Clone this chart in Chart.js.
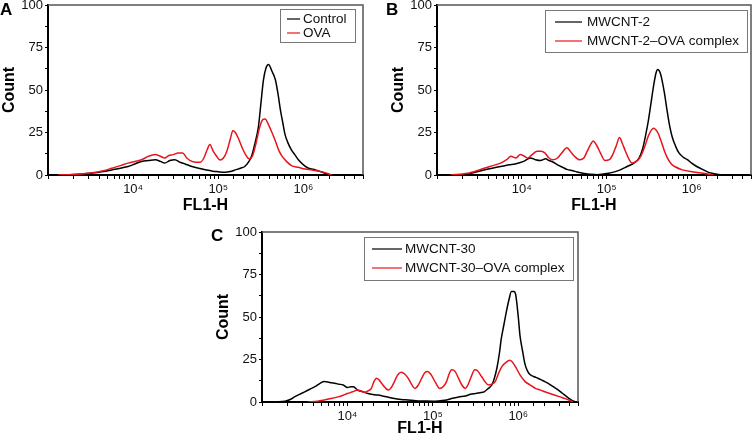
<!DOCTYPE html>
<html lang="en">
<head>
    <meta charset="UTF-8">
    <title>FL1-H histograms</title>
    <style>
        body {
            margin: 0;
            background-color: #fff;
            font-family: "Liberation Sans", Arial, sans-serif;
        }

        #wrap {
            position: relative;
            width: 753px;
            height: 441px;
            overflow: hidden;
        }

        canvas {
            position: absolute;
        }

        .letter {
            position: absolute;
            font-weight: bold;
            font-size: 17px;
            line-height: 17px;
            color: #000;
        }
    </style>
    <script src="https://cdn.jsdelivr.net/npm/chart.js"></script>
</head>
<body>
    <div id="wrap">
        <canvas id="panelA" width="370" height="216" style="left:0;top:0"></canvas>
        <canvas id="panelB" width="364" height="216" style="left:389px;top:0"></canvas>
        <canvas id="panelC" width="370" height="216" style="left:214px;top:227px"></canvas>
        <div class="letter" style="left:0;top:1px">A</div>
        <div class="letter" style="left:386px;top:1px">B</div>
        <div class="letter" style="left:211px;top:227px">C</div>
    </div>

    <script>
        // x axis range (FL1-H) and labelled ticks
        const fl1Min = 1000;
        const fl1Max = 5000000;
        const xTickExp = [4, 5, 6];
        const xTickText = ["10\u2074", "10\u2075", "10\u2076"];
        const yTickValues = [0, 25, 50, 75, 100];

        // Panel A: positions as log10(FL1-H), counts
        const aControlExp = [3.10, 3.30, 3.50, 3.65, 3.75, 3.85, 3.94, 4.02, 4.10, 4.18, 4.26, 4.32, 4.37, 4.43, 4.49, 4.55, 4.61, 4.69, 4.77, 4.86, 4.92, 4.98, 5.08, 5.14, 5.20, 5.26, 5.31, 5.36, 5.39, 5.43, 5.47, 5.50, 5.53, 5.56, 5.59, 5.63, 5.67, 5.70, 5.73, 5.76, 5.78, 5.82, 5.86, 5.90, 5.94, 6.00, 6.06, 6.14, 6.20, 6.25, 6.33];
        const aControlCount = [0, 0.3, 1, 2, 3, 4, 5, 6.5, 8, 8.5, 9, 8, 7, 8.5, 9, 7.5, 6.5, 5, 4, 2.9, 2.4, 2, 1.6, 2, 3, 4, 5, 8, 11, 18.6, 28, 42, 56, 63, 65, 61, 56, 48, 38, 30, 24.5, 18.6, 14.7, 11.8, 9, 6, 4, 3, 2, 1, 0];
        const aOvaExp = [3.12, 3.30, 3.50, 3.65, 3.75, 3.85, 3.94, 4.02, 4.10, 4.18, 4.26, 4.32, 4.37, 4.42, 4.47, 4.53, 4.58, 4.63, 4.69, 4.74, 4.79, 4.83, 4.87, 4.90, 4.94, 4.98, 5.02, 5.06, 5.10, 5.14, 5.17, 5.20, 5.24, 5.28, 5.32, 5.36, 5.40, 5.44, 5.48, 5.52, 5.55, 5.59, 5.63, 5.67, 5.71, 5.75, 5.80, 5.86, 5.94, 6.02, 6.10, 6.18, 6.25, 6.33];
        const aOvaCount = [0, 0.3, 1.2, 2.5, 4, 5.5, 7, 8, 9, 11, 12, 11, 10, 11.5, 12, 13, 13, 10, 8, 7.5, 7.5, 10, 15, 18, 14, 11, 8.8, 10, 14, 21, 26, 25, 21, 16, 12, 9.5, 11, 18, 27, 32.5, 33, 29.5, 25, 20, 14.5, 11, 8, 5.5, 4.5, 3.5, 3, 2.2, 1.4, 0];

        // Panel B
        const bCntExp = [3.20, 3.36, 3.55, 3.65, 3.75, 3.85, 3.92, 4.02, 4.10, 4.16, 4.22, 4.28, 4.32, 4.37, 4.42, 4.48, 4.53, 4.60, 4.65, 4.72, 4.80, 4.89, 4.96, 5.02, 5.10, 5.16, 5.24, 5.32, 5.38, 5.42, 5.46, 5.49, 5.52, 5.55, 5.58, 5.60, 5.63, 5.65, 5.68, 5.71, 5.74, 5.77, 5.81, 5.85, 5.90, 5.95, 6.00, 6.06, 6.12, 6.18, 6.24, 6.30, 6.36];
        const bCntCount = [0, 0.5, 3, 4, 5, 6, 6.5, 8, 10, 9, 8.5, 9.5, 8.5, 7.5, 6, 4.5, 3.3, 2.5, 1.8, 1, 0.5, 0.2, 0.6, 1, 2, 3, 5, 7, 10, 15, 24, 32, 42, 52, 60, 62, 60, 56, 48, 38, 29, 22.5, 17, 13, 10.5, 9, 7, 5, 3.5, 2, 1, 0.4, 0];
        const bOvaExp = [3.16, 3.36, 3.50, 3.62, 3.75, 3.82, 3.87, 3.93, 3.98, 4.03, 4.07, 4.12, 4.18, 4.23, 4.27, 4.32, 4.36, 4.42, 4.47, 4.53, 4.57, 4.62, 4.68, 4.73, 4.77, 4.81, 4.84, 4.88, 4.92, 4.98, 5.03, 5.07, 5.11, 5.15, 5.18, 5.22, 5.26, 5.30, 5.35, 5.40, 5.45, 5.49, 5.55, 5.60, 5.64, 5.68, 5.72, 5.76, 5.80, 5.89, 6.02, 6.14, 6.26];
        const bOvaCount = [0, 1, 3, 5, 7, 9, 11, 10, 12, 11, 10, 12, 14, 14, 13, 10, 9, 10, 13, 16, 14, 11, 9, 10, 14, 18, 20, 17.5, 13.5, 8.5, 9, 12, 17, 22, 19, 14, 9.5, 7, 8, 11, 17, 23, 27.5, 25, 20, 14, 9.5, 6.5, 5, 3, 1.8, 1, 0];

        // Panel C
        const cCntExp = [3.03, 3.27, 3.33, 3.38, 3.44, 3.50, 3.56, 3.62, 3.68, 3.73, 3.79, 3.85, 3.90, 3.95, 4.00, 4.04, 4.07, 4.12, 4.18, 4.24, 4.32, 4.40, 4.48, 4.55, 4.63, 4.71, 4.80, 4.91, 5.00, 5.06, 5.14, 5.22, 5.30, 5.38, 5.44, 5.50, 5.55, 5.60, 5.65, 5.69, 5.72, 5.75, 5.78, 5.80, 5.83, 5.86, 5.89, 5.92, 5.95, 5.97, 6.00, 6.02, 6.05, 6.08, 6.11, 6.14, 6.18, 6.23, 6.29, 6.35, 6.41, 6.47, 6.52, 6.57, 6.61, 6.64, 6.68];
        const cCntCount = [0, 0.5, 1.5, 3, 4.5, 6, 7.5, 9, 11, 12, 11.5, 11, 10.5, 10, 8.5, 9, 9, 7, 6, 5, 4.3, 3.7, 2.8, 2, 1.5, 1.2, 0.8, 0.6, 0.5, 0.6, 1, 2, 3, 3.5, 4.5, 5, 5.5, 6, 8, 10, 14, 20, 29, 37, 45, 53, 60, 65, 65, 63, 50, 39, 30, 22, 18, 16, 15, 14, 12.5, 11, 9, 7, 5, 3, 1.5, 0.6, 0];
        const cOvaExp = [3.54, 3.65, 3.73, 3.81, 3.89, 3.95, 4.00, 4.06, 4.12, 4.16, 4.20, 4.24, 4.28, 4.31, 4.34, 4.37, 4.40, 4.44, 4.48, 4.52, 4.55, 4.59, 4.63, 4.67, 4.71, 4.75, 4.79, 4.83, 4.87, 4.91, 4.94, 4.98, 5.03, 5.08, 5.12, 5.16, 5.19, 5.22, 5.26, 5.30, 5.34, 5.38, 5.41, 5.45, 5.49, 5.52, 5.57, 5.61, 5.65, 5.69, 5.73, 5.77, 5.81, 5.86, 5.90, 5.93, 5.97, 6.02, 6.08, 6.14, 6.20, 6.26, 6.31, 6.37, 6.43, 6.49, 6.55, 6.60, 6.64];
        const cOvaCount = [0, 0.5, 1.2, 2, 3, 4, 5, 6, 7, 6.5, 5.7, 6.5, 8, 12, 14, 13, 11, 8.5, 7, 9, 12, 16, 17.5, 16.5, 14, 10.5, 8, 10, 14, 17.5, 18, 16, 11.5, 8, 9, 12, 16.5, 19, 18, 14, 10, 8, 10, 15, 19, 18.5, 15, 12, 10, 10.5, 12, 17, 21, 23.5, 24.5, 23.5, 20.5, 16, 12, 10, 8, 7, 6, 5, 4, 3, 2, 1, 0];

        Chart.defaults.font.family = '"Liberation Sans", Arial, sans-serif';
        Chart.defaults.color = "#111";

        function toPoints(exps, counts) {
            return exps.map((e, i) => ({ x: Math.pow(10, e), y: counts[i] }));
        }

        // gray top/right frame plus a boxed legend inside the plot
        const boxLegend = {
            id: "boxLegend",
            afterDatasetsDraw(chart, args, opts) {
                const { ctx, chartArea: a } = chart;
                ctx.save();
                ctx.strokeStyle = "#555";
                ctx.lineWidth = 1.5;
                ctx.beginPath();
                ctx.moveTo(a.left, a.top);
                ctx.lineTo(a.right, a.top);
                ctx.lineTo(a.right, a.bottom);
                ctx.stroke();

                const x = Math.round(a.right - opts.inset[0] - opts.width);
                const y = Math.round(a.top + opts.inset[1]);
                ctx.fillStyle = "#fff";
                ctx.fillRect(x, y, opts.width, opts.height);
                ctx.strokeStyle = "#777";
                ctx.lineWidth = 1;
                ctx.strokeRect(x + 0.5, y + 0.5, opts.width, opts.height);

                ctx.font = '13.5px "Liberation Sans", Arial, sans-serif';
                ctx.textBaseline = "middle";
                chart.data.datasets.forEach((ds, i) => {
                    const ry = y + opts.rows[i];
                    ctx.strokeStyle = ds.borderColor;
                    ctx.lineWidth = 1.2;
                    ctx.beginPath();
                    ctx.moveTo(x + opts.line[0], ry);
                    ctx.lineTo(x + opts.line[1], ry);
                    ctx.stroke();
                    ctx.fillStyle = "#111";
                    ctx.fillText(ds.label, x + opts.textX, ry + 0.5);
                });
                ctx.restore();
            }
        };

        function makePanel(id, series, cfg) {
            new Chart(document.getElementById(id), {
                type: "line",
                data: {
                    datasets: series.map(s => ({
                        label: s.label,
                        data: toPoints(s.exp, s.count),
                        borderColor: s.color,
                        borderWidth: 1.5,
                        pointRadius: 0,
                        cubicInterpolationMode: "monotone",
                        order: s.order
                    }))
                },
                options: {
                    responsive: false,
                    animation: false,
                    layout: { padding: { top: 5, right: cfg.right, left: 0, bottom: 0 } },
                    plugins: {
                        legend: { display: false },
                        tooltip: { enabled: false },
                        boxLegend: cfg.legend
                    },
                    scales: {
                        x: {
                            type: "logarithmic",
                            min: fl1Min,
                            max: fl1Max,
                            grid: { drawOnChartArea: false, tickLength: 4, color: "#000" },
                            border: { color: "#000", width: 2 },
                            ticks: {
                                autoSkip: false,
                                maxRotation: 0,
                                padding: 3,
                                font: { size: 13 },
                                callback: v => {
                                    const k = xTickExp.findIndex(e => Math.abs(Math.log10(v) - e) < 1e-6);
                                    return k >= 0 ? xTickText[k] : "";
                                }
                            },
                            title: {
                                display: true,
                                text: "FL1-H",
                                font: { size: 16, weight: "bold" },
                                color: "#000",
                                padding: { top: 0, bottom: cfg.titlePad }
                            },
                            afterFit: s => {
                                s.height = 41;
                                s.paddingLeft = 0;
                                s.paddingRight = 0;
                            }
                        },
                        y: {
                            min: 0,
                            max: 100,
                            grid: { drawOnChartArea: false, tickLength: 3, color: "#000" },
                            border: { color: "#000", width: 2 },
                            ticks: {
                                stepSize: 6.25,
                                padding: 2,
                                font: { size: 13 },
                                callback: v => yTickValues.includes(v) ? v : ""
                            },
                            title: {
                                display: true,
                                text: "Count",
                                font: { size: 16, weight: "bold" },
                                color: "#000",
                                padding: { top: 0, bottom: 0 }
                            },
                            afterFit: s => {
                                s.width = 48;
                                s.paddingTop = 0;
                                s.paddingBottom = 0;
                            }
                        }
                    }
                },
                plugins: [boxLegend]
            });
        }

        makePanel("panelA", [
            { label: "Control", exp: aControlExp, count: aControlCount, color: "#000", order: 1 },
            { label: "OVA", exp: aOvaExp, count: aOvaCount, color: "#e8141c", order: 0 }
        ], {
            right: 7, titlePad: 0.5,
            legend: { inset: [8, 4], width: 75, height: 33, line: [7, 20], textX: 23, rows: [10, 24] }
        });

        makePanel("panelB", [
            { label: "MWCNT-2", exp: bCntExp, count: bCntCount, color: "#000", order: 1 },
            { label: "MWCNT-2\u2013OVA complex", exp: bOvaExp, count: bOvaCount, color: "#e8141c", order: 0 }
        ], {
            right: 2, titlePad: 0.5,
            legend: { inset: [4, 4.5], width: 202, height: 42, line: [10, 37], textX: 42, rows: [12, 31] }
        });

        makePanel("panelC", [
            { label: "MWCNT-30", exp: cCntExp, count: cCntCount, color: "#000", order: 1 },
            { label: "MWCNT-30\u2013OVA complex", exp: cOvaExp, count: cOvaCount, color: "#e8141c", order: 0 }
        ], {
            right: 6, titlePad: 4.5,
            legend: { inset: [5, 5], width: 209, height: 43, line: [8, 38], textX: 41, rows: [12, 31] }
        });
    </script>
</body>
</html>
